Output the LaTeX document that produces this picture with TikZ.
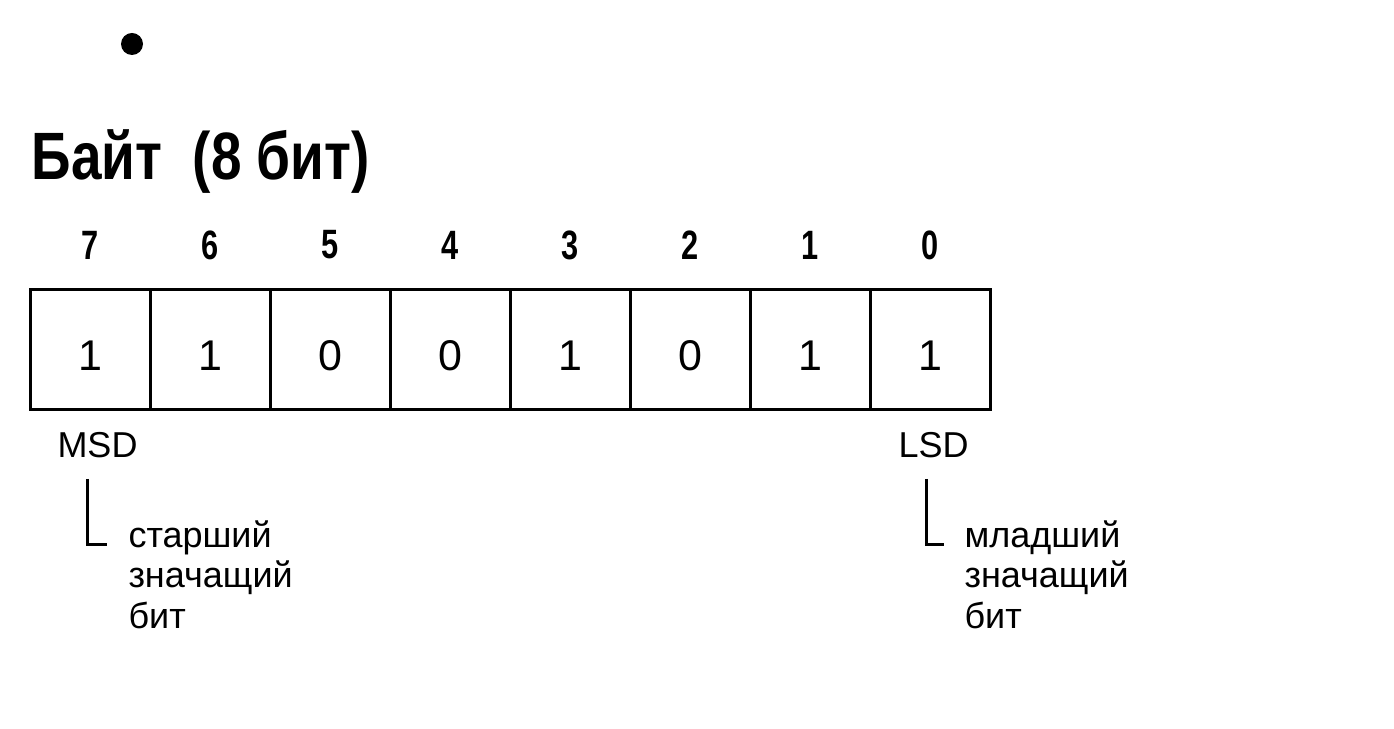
\documentclass[tikz,border=0pt]{standalone}
\usepackage{fontspec}
\setmainfont{Liberation Sans}
\newfontfamily\narrowfont[FakeStretch=0.82]{Liberation Sans}
\newfontfamily\bitfont[FakeStretch=0.75]{Liberation Sans}
\usetikzlibrary{positioning}
\begin{document}
\begin{tikzpicture}[x=1pt, y=1pt, node distance={120pt}, line width=3pt,
    cell/.style = {draw, minimum width=120pt, minimum height=120pt, inner sep=0pt, text height=41pt, text depth=0pt, font=\fontsize{43}{43}\selectfont},
    num/.style = {inner sep=0pt, node distance={105pt}, font=\bitfont\bfseries\fontsize{41}{41}\selectfont},
    note/.style = {anchor=base west, align=left, inner sep=0pt, font=\fontsize{36}{41}\selectfont}]
            \useasboundingbox (0,0) rectangle (1394,728);
            \fill (132,684) circle (11);
            \node[anchor=base west, inner sep=0pt, font=\narrowfont\bfseries\fontsize{67}{67}\selectfont] (title) at (30,548) {Байт\ \ (8 бит)};
            \node[cell] (7) at (90,378) {1};
            \node[cell] (6) [right of=7] {1};
            \node[cell] (5) [right of=6] {0};
            \node[cell] (4) [right of=5] {0};
            \node[cell] (3) [right of=4] {1};
            \node[cell] (2) [right of=3] {0};
            \node[cell] (1) [right of=2] {1};
            \node[cell] (0) [right of=1] {1};
            \node[num] (n7) [above of=7] {7};
            \node[num] (n6) [above of=6] {6};
            \node[num] (n5) [above of=5] {5};
            \node[num] (n4) [above of=4] {4};
            \node[num] (n3) [above of=3] {3};
            \node[num] (n2) [above of=2] {2};
            \node[num] (n1) [above of=1] {1};
            \node[num] (n0) [above of=0] {0};
            \node[note] (msd) at (56,270) {MSD};
            \node[note] (lsd) at (897,270) {LSD};
            \node[note] (high) at (127,99) {старший\\значащий\\бит};
            \node[note] (low) at (963,99) {младший\\значащий\\бит};
            \coordinate (msdend) at (107,183);
            \coordinate (lsdend) at (944,183);
            \draw ([shift={(31,-19)}]msd.south west) |- (msdend);
            \draw ([shift={(29,-19)}]lsd.south west) |- (lsdend);
        \end{tikzpicture}
\end{document}
